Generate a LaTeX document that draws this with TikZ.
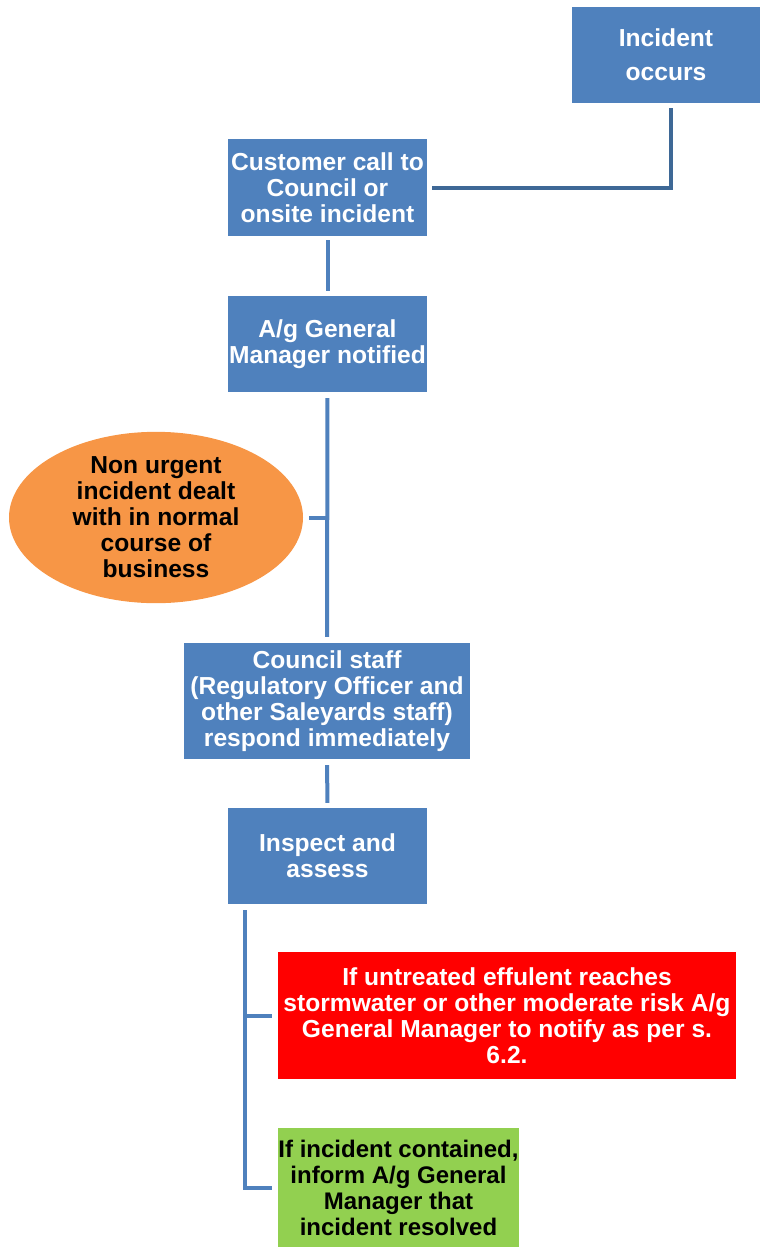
\documentclass[tikz,border=0pt]{standalone}
\usepackage{fontspec}
\setmainfont{Liberation Sans}
\usetikzlibrary{shapes.geometric}
\definecolor{boxblue}{HTML}{4F81BD}
\definecolor{linedark}{HTML}{3E6896}
\definecolor{boxorange}{HTML}{F79646}
\definecolor{boxred}{HTML}{FF0000}
\definecolor{boxgreen}{HTML}{92D050}
\tikzset{
  base/.style={inner sep=0pt, align=center, font=\bfseries\fontsize{24.6}{26}\selectfont},
  bluebox/.style={base, rectangle, fill=boxblue, text=white},
  link/.style={draw=boxblue, line width=4pt},
}
\begin{document}
\begin{tikzpicture}[x=1pt, y=-1pt]
\useasboundingbox (0,0) rectangle (760,1247);
\node[bluebox, minimum width=188pt, minimum height=96pt, font=\bfseries\fontsize{24.6}{34}\selectfont] (inc) at (666,55) {Incident\\occurs};
\node[bluebox, minimum width=199pt, minimum height=97pt] (cust) at (327.5,187.5) {Customer call to\\Council or\\onsite incident};
\node[bluebox, minimum width=199pt, minimum height=96pt] (agm) at (327.5,344) {A/g General\\Manager notified};
\node[base, ellipse, fill=boxorange, text=black, minimum width=294pt, minimum height=155pt] (nonurg) at (156,517.5) {Non urgent\\incident dealt\\with in normal\\course of\\business};
\node[bluebox, minimum width=286pt, minimum height=116pt] (staff) at (327,701) {Council staff\\(Regulatory Officer and\\other Saleyards staff)\\respond immediately};
\node[bluebox, minimum width=199pt, minimum height=96pt] (insp) at (327.5,856) {Inspect and\\assess};
\node[base, rectangle, fill=boxred, text=white, minimum width=458pt, minimum height=127pt] (red) at (507,1015.5) {If untreated effulent reaches\\stormwater or other moderate risk A/g\\General Manager to notify as per s.\\6.2.};
\node[base, rectangle, fill=boxgreen, text=black, minimum width=241pt, minimum height=119pt, font=\bfseries\fontsize{24}{26}\selectfont] (green) at (398.5,1187.5) {If incident contained,\\inform A/g General\\Manager that\\incident resolved};
% connectors
\draw[link, draw=linedark, shorten <=5pt, shorten >=5pt] ([xshift=5pt]inc.south) |- (cust.east);
\draw[link, shorten <=4pt, shorten >=5pt] (cust.south) -- (agm.north);
\draw[link, shorten <=6pt, shorten >=6pt] (agm.south) -- (staff.north);
\coordinate (midtick) at (agm.south |- nonurg.east);
\draw[link, shorten <=6pt] (nonurg.east) -- (midtick);
\draw[link, shorten <=6pt, shorten >=5pt] (staff.south) -- (insp.north);
\coordinate (brtop) at ([xshift=17pt]insp.south west);
\draw[link, shorten <=6pt, shorten >=6pt] (brtop) |- (green.west);
\draw[link, shorten >=6pt] (brtop |- red.west) -- (red.west);
\end{tikzpicture}
\end{document}
